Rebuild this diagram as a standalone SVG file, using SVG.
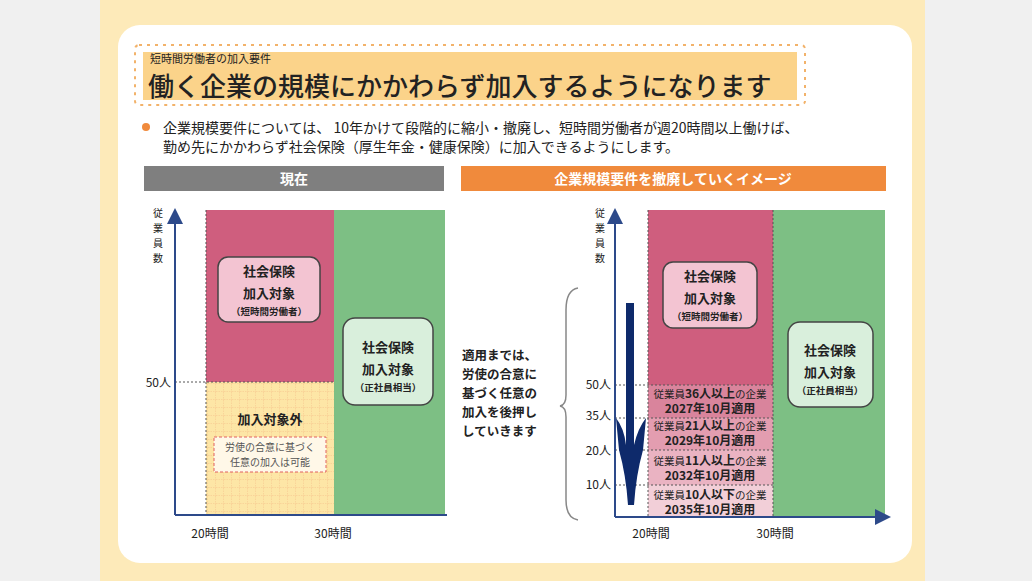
<svg xmlns="http://www.w3.org/2000/svg" width="1032" height="581" viewBox="0 0 1032 581">
<defs>
<style>
text{font-family:"Noto Sans CJK JP","Noto Sans",sans-serif;fill:#222}
.b{font-weight:bold}
.c{text-anchor:middle}
.ax{stroke:#2d4a8a;stroke-width:2;fill:none}
.dot{stroke:#555;stroke-width:1;stroke-dasharray:2 2;fill:none}
.bx{stroke:#444;stroke-width:1.5}
</style>
<marker id="ah" markerWidth="8" markerHeight="8" refX="6" refY="4" orient="auto"><path d="M0,0 L8,4 L0,8z" fill="#2d4a8a"/></marker>
<pattern id="grid" width="8" height="8" patternUnits="userSpaceOnUse"><rect width="8" height="8" fill="#fde6a6"/><path d="M8,0V8M0,8H8" stroke="#f0b080" stroke-width="0.7" stroke-dasharray="1.5 1"/></pattern>
</defs>
<rect width="1032" height="581" fill="#f0f0f0"/>
<rect x="100" y="0" width="825" height="581" fill="#fdeab9"/>
<rect x="118" y="25" width="794" height="538" rx="22" fill="#fff"/>
<g id="title">
<rect x="135" y="45" width="670" height="60" rx="4" fill="none" stroke="#f2b26a" stroke-width="2" stroke-dasharray="3 5"/>
<rect x="143" y="52" width="654" height="48" fill="#fbd38a"/>
<text x="150" y="63" font-size="11">短時間労働者の加入要件</text>
<text x="148" y="96" font-size="26" font-weight="500">働く企業の規模にかかわらず加入するようになります</text>
</g>
<g id="intro">
<circle cx="146" cy="127" r="4" fill="#f08a3c"/>
<text x="163" y="133" font-size="14">企業規模要件については、 10年かけて段階的に縮小・撤廃し、短時間労働者が週20時間以上働けば、</text>
<text x="163" y="152" font-size="14">勤め先にかかわらず社会保険（厚生年金・健康保険）に加入できるようにします。</text>
</g>
<g id="hdr-left"><rect x="144" y="166" width="300" height="25" fill="#7f7f7f"/><text x="294" y="184" font-size="14" class="b c" style="fill:#fff">現在</text></g>
<g id="hdr-right"><rect x="461" y="166" width="425" height="25" fill="#f08a3c"/><text x="673" y="184" font-size="14" class="b c" style="fill:#fff">企業規模要件を撤廃していくイメージ</text></g>

<g id="left-chart">
<rect x="206" y="210" width="128" height="172" fill="#cf5e7e"/>
<rect x="206" y="382" width="128" height="133" fill="url(#grid)"/>
<rect x="334" y="210" width="111" height="305" fill="#7dbf84"/>
<path class="dot" d="M206,210V515M175,382H334"/>
<g font-size="10" fill="#444"><text x="158" y="217" class="c">従</text><text x="158" y="232" class="c">業</text><text x="158" y="247" class="c">員</text><text x="158" y="262" class="c">数</text></g>
<text x="171" y="387" font-size="12" text-anchor="end">50人</text>
<text x="210" y="538" font-size="12" class="c">20時間</text>
<text x="333" y="538" font-size="12" class="c">30時間</text>
<g id="l-pink"><rect x="218" y="257" width="102" height="65" rx="10" fill="#f3c4d2" class="bx"/>
<text x="269" y="276" font-size="13" class="b c">社会保険</text><text x="269" y="298" font-size="13" class="b c">加入対象</text><text x="269" y="315" font-size="9.5" class="b c">（短時間労働者）</text></g>
<g id="l-green"><rect x="343" y="318" width="90" height="87" rx="12" fill="#d9efdc" class="bx"/>
<text x="388" y="352" font-size="13" class="b c">社会保険</text><text x="388" y="374" font-size="13" class="b c">加入対象</text><text x="388" y="391" font-size="9.5" class="b c">（正社員相当）</text></g>
<text x="270" y="424" font-size="13" class="b c">加入対象外</text>
<g id="l-note"><rect x="214" y="437" width="112" height="35" fill="#fff8e8" stroke="#e06060" stroke-dasharray="3 2"/>
<text x="270" y="451" font-size="10" class="c" style="fill:#555">労使の合意に基づく</text><text x="270" y="466" font-size="10" class="c" style="fill:#555">任意の加入は可能</text></g>
<path class="ax" d="M175,515V212" marker-end="url(#ah)"/>
<path class="ax" d="M175,515H447"/>
</g>

<g id="right-chart">
<rect x="648" y="210" width="125" height="175" fill="#cf5e7e"/>
<rect x="648" y="385" width="125" height="33" fill="#d9849c"/>
<rect x="648" y="418" width="125" height="32" fill="#e39db0"/>
<rect x="648" y="450" width="125" height="35" fill="#eab3c2"/>
<rect x="648" y="485" width="125" height="32" fill="#f2cfd8"/>
<rect x="773" y="210" width="112" height="307" fill="#7dbf84"/>
<path class="dot" d="M648,210V517M773,210V517M615,385H773M615,418H773M615,450H773M615,485H773"/>
<g font-size="10" fill="#444"><text x="600" y="217" class="c">従</text><text x="600" y="232" class="c">業</text><text x="600" y="247" class="c">員</text><text x="600" y="262" class="c">数</text></g>
<text x="611" y="389" font-size="12" text-anchor="end">50人</text>
<text x="611" y="420" font-size="12" text-anchor="end">35人</text>
<text x="611" y="455" font-size="12" text-anchor="end">20人</text>
<text x="611" y="489" font-size="12" text-anchor="end">10人</text>
<text x="651" y="538" font-size="12" class="c">20時間</text>
<text x="775" y="538" font-size="12" class="c">30時間</text>
<g font-size="10.5" class="c">
<text x="710" y="398">従業員<tspan class="b" font-size="12">36人以上</tspan>の企業</text><text x="710" y="413" class="b" font-size="12">2027年10月適用</text>
<text x="710" y="430">従業員<tspan class="b" font-size="12">21人以上</tspan>の企業</text><text x="710" y="445" class="b" font-size="12">2029年10月適用</text>
<text x="710" y="465">従業員<tspan class="b" font-size="12">11人以上</tspan>の企業</text><text x="710" y="480" class="b" font-size="12">2032年10月適用</text>
<text x="710" y="499">従業員<tspan class="b" font-size="12">10人以下</tspan>の企業</text><text x="710" y="514" class="b" font-size="12">2035年10月適用</text>
</g>
<g id="r-pink"><rect x="663" y="262" width="94" height="66" rx="10" fill="#f3c4d2" class="bx"/>
<text x="710" y="281" font-size="13" class="b c">社会保険</text><text x="710" y="303" font-size="13" class="b c">加入対象</text><text x="710" y="320" font-size="9.5" class="b c">（短時間労働者）</text></g>
<g id="r-green"><rect x="788" y="322" width="85" height="85" rx="12" fill="#d9efdc" class="bx"/>
<text x="830" y="355" font-size="13" class="b c">社会保険</text><text x="830" y="377" font-size="13" class="b c">加入対象</text><text x="830" y="394" font-size="9.5" class="b c">（正社員相当）</text></g>
<path class="ax" d="M615,517V212" marker-end="url(#ah)"/>
<path class="ax" d="M615,517H887" marker-end="url(#ah)"/>
</g>
<g id="connectors">
<path d="M626,303H634V445Q638,428 646,418L643,450Q636,475 634,505H628Q626,475 619,450L616,418Q624,428 626,445Z" fill="#0e2a6b"/>
<path d="M578,288Q566,290 566,310V395Q566,405 560,406Q566,407 566,417V500Q566,518 578,520" fill="none" stroke="#888" stroke-width="1.5"/>
</g>
<g id="note" font-size="12.5" class="b">
<text x="462" y="360">適用までは、</text><text x="462" y="379">労使の合意に</text><text x="462" y="398">基づく任意の</text><text x="462" y="417">加入を後押し</text><text x="462" y="436">していきます</text>
</g>
</svg>
